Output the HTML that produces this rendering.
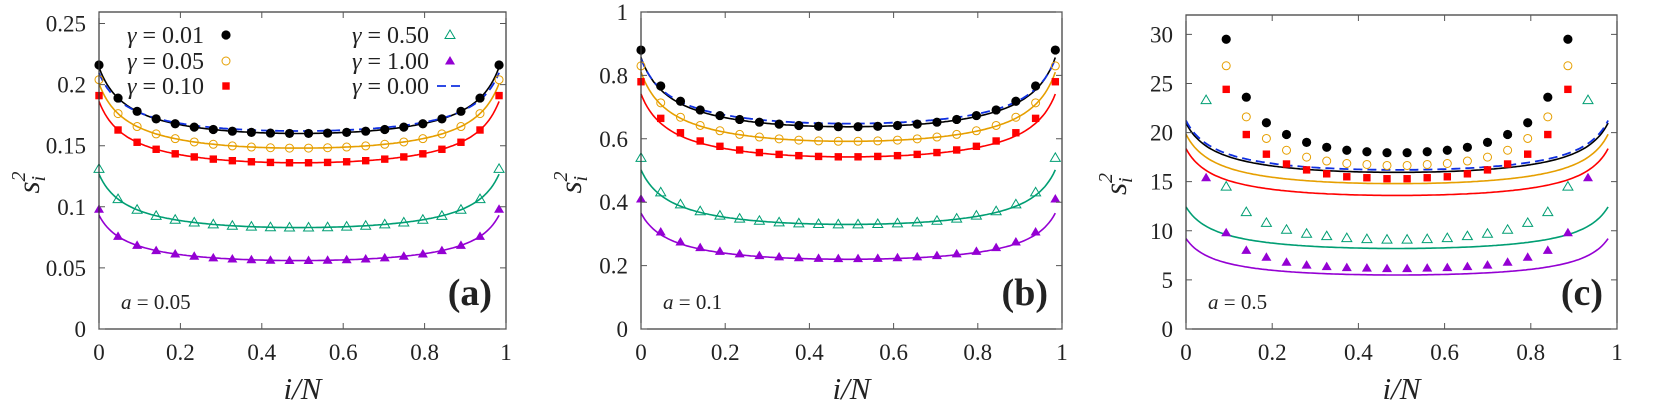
<!DOCTYPE html><html><head><meta charset="utf-8"><style>body{margin:0;background:#fff;font-family:'Liberation Serif',serif}svg{display:block}</style></head><body>
<svg id="s" width="1661" height="411" xmlns="http://www.w3.org/2000/svg" style="font-family:'Liberation Serif',serif"></svg>
<script>
const S=document.getElementById('s');let h='';
const F=`style="font-family:'Liberation Serif','DejaVu Serif',serif;fill:#222"`;
const C={k:'#000',o:'#e69f00',r:'#ff0000',g:'#009e73',p:'#9400d3',b:'#1030e0'};
const E=0.2,G0=1/Math.sqrt(1+E);
function g(t){return 1/Math.sqrt(4*t*(1-t)+E)-G0;}
function mk(type,x,y){
 if(type=='k')return `<circle cx="${x}" cy="${y}" r="4.6" fill="#000"/>`;
 if(type=='o')return `<circle cx="${x}" cy="${y}" r="4" fill="none" stroke="${C.o}" stroke-width="1"/>`;
 if(type=='r')return `<rect x="${x-3.7}" y="${y-3.7}" width="7.4" height="7.4" fill="${C.r}"/>`;
 if(type=='g')return `<path d="M${x} ${y-5}L${x+5} ${y+3.5}L${x-5} ${y+3.5}Z" fill="none" stroke="${C.g}" stroke-width="1"/>`;
 if(type=='p')return `<path d="M${x} ${y-5}L${x+5} ${y+3.5}L${x-5} ${y+3.5}Z" fill="${C.p}"/>`;
}
function panel(P){
 const {x0,x1,y0,yt,ymax,sp,ticks,labs,lbl,aLab}=P;
 const Y=v=>y0-(v/ymax)*(y0-yt), X=t=>x0+t*(x1-x0);
 for(const s of P.lines){
  let d='';for(let i=0;i<=200;i++){const u=i/200;const v=s.m+s.d*g(u);const x=x0+u*21*sp;d+=(i?'L':'M')+x.toFixed(1)+' '+Y(v).toFixed(1);}
  h+=`<path d="${d}" fill="none" stroke="${C[s.c]}" stroke-width="${s.c=='b'?1.8:1.6}" ${s.c=='b'?'stroke-dasharray="9,5"':''}/>`;
 }
 for(const s of P.pts){
  for(let k=0;k<=21;k++){let v;
   if(s.arr){const kk=Math.min(k,21-k);v=s.arr[kk];if(v==null)continue;}
   else{v=(k==0||k==21)?s.e:s.m+s.d*g(k/21);}
   h+=mk(s.c,x0+k*sp,Y(v));}
 }
 h+=`<rect x="${x0}" y="${yt}" width="${x1-x0}" height="${y0-yt}" fill="none" stroke="#333" stroke-width="1.2"/>`;
 ticks.forEach((v,i)=>{const y=Y(v);h+=`<path d="M${x0} ${y}h6M${x1} ${y}h-6" stroke="#555"/>`;
  h+=`<text ${F} x="${x0-13}" y="${y+8}" font-size="23" text-anchor="end">${labs[i]}</text>`;});
 [0,.2,.4,.6,.8,1].forEach(t=>{const x=X(t);h+=`<path d="M${x} ${y0}v-6M${x} ${yt}v6" stroke="#555"/>`;
  h+=`<text ${F} x="${x}" y="360" font-size="23" text-anchor="middle">${t}</text>`;});
 h+=`<text ${F} x="${(x0+x1)/2}" y="399" font-size="31" font-style="italic" text-anchor="middle">i/N</text>`;
 h+=`<text ${F} transform="translate(${x0-60},${(y0+yt)/2+12}) rotate(-90)" font-size="31" font-style="italic" text-anchor="middle">s<tspan font-size="20" dy="-14">2</tspan><tspan font-size="20" dx="-10" dy="20">i</tspan></text>`;
 h+=`<text ${F} x="${x1-14}" y="${y0-24}" font-size="38" font-weight="bold" text-anchor="end">(${lbl})</text>`;
 h+=`<text ${F} x="${x0+22}" y="${y0-20}" font-size="21"><tspan font-style="italic">a</tspan> = ${aLab}</text>`;
}
panel({x0:99,x1:506,y0:329,yt:12,ymax:0.2594,sp:19.05,ticks:[0,.05,.1,.15,.2,.25],labs:['0','0.05','0.1','0.15','0.2','0.25'],lbl:'a',aLab:'0.05',
 lines:[{c:'g',m:.083,d:.033},{c:'p',m:.056,d:.028},{c:'r',m:.136,d:.038},{c:'o',m:.148,d:.040},{c:'k',m:.16,d:.041},{c:'b',m:.162,d:.036}],
 pts:[{c:'k',m:.16,d:.041,e:.216},{c:'o',m:.148,d:.040,e:.204},{c:'r',m:.136,d:.038,e:.191},{c:'g',m:.083,d:.033,e:.131},{c:'p',m:.056,d:.028,e:.098}]});
panel({x0:641,x1:1062,y0:329,yt:12,ymax:1,sp:19.73,ticks:[0,.2,.4,.6,.8,1],labs:['0','0.2','0.4','0.6','0.8','1'],lbl:'b',aLab:'0.1',
 lines:[{c:'g',m:.33,d:.13},{c:'p',m:.22,d:.11},{c:'r',m:.543,d:.15},{c:'o',m:.592,d:.165},{c:'k',m:.638,d:.165},{c:'b',m:.648,d:.155}],
 pts:[{c:'k',m:.638,d:.182,e:.88},{c:'o',m:.592,d:.172,e:.83},{c:'r',m:.543,d:.172,e:.78},{c:'g',m:.33,d:.143,e:.54},{c:'p',m:.222,d:.119,e:.41}]});
panel({x0:1186,x1:1617,y0:329,yt:15,ymax:31.97,sp:20.1,ticks:[0,5,10,15,20,25,30],labs:['0','5','10','15','20','25','30'],lbl:'c',aLab:'0.5',
 lines:[{c:'g',m:8.2,d:3.2},{c:'p',m:5.5,d:2.8},{c:'r',m:13.6,d:3.6},{c:'o',m:14.8,d:3.8},{c:'k',m:15.95,d:3.8},{c:'b',m:16.2,d:3.8}],
 pts:[{c:'k',arr:[null,null,29.5,23.6,21.0,19.8,19.0,18.5,18.2,18.05,17.95,17.95]},
 {c:'o',arr:[null,null,26.8,21.6,19.4,18.2,17.5,17.1,16.85,16.75,16.65,16.65]},
 {c:'r',arr:[null,null,24.4,19.8,17.8,16.8,16.2,15.8,15.5,15.4,15.3,15.3]},
 {c:'g',arr:[null,23.3,14.5,11.9,10.8,10.1,9.7,9.45,9.25,9.15,9.1,9.1]},
 {c:'p',arr:[null,15.4,9.8,8.0,7.3,6.8,6.5,6.35,6.25,6.2,6.15,6.15]}]});
const L=[['0.01','k',127,35],['0.05','o',127,61],['0.10','r',127,86],['0.50','g',352,35],['1.00','p',352,61]];
for(const [v,c,x,y] of L){h+=`<text ${F} x="${x}" y="${y+8}" font-size="24"><tspan font-style="italic">γ</tspan> = ${v}</text>`;h+=mk(c,x+(x<200?99:98),y);}
h+=`<text ${F} x="352" y="94" font-size="24"><tspan font-style="italic">γ</tspan> = 0.00</text><path d="M437 86H464" stroke="${C.b}" stroke-width="1.8" stroke-dasharray="9,5"/>`;
S.innerHTML=h;
</script></body></html>
